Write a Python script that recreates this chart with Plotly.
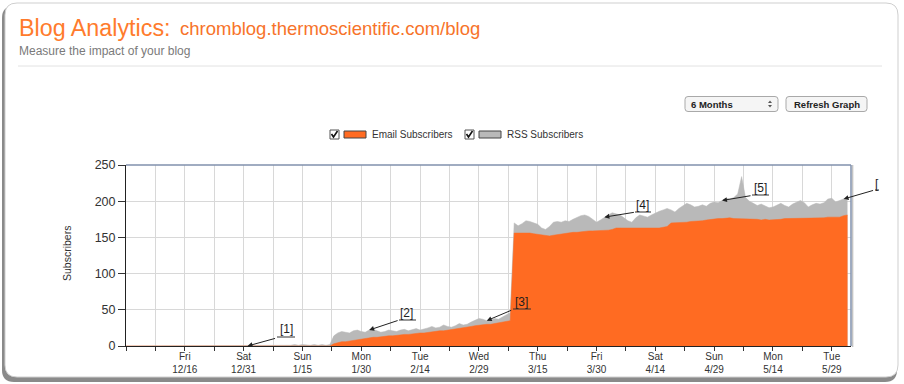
import plotly.graph_objects as go
import pandas as pd

# ---------------- data ----------------
start_date = "2011-12-01"

email_subscribers = [
    0, 0, 0, 0, 0, 0, 0, 0, 0, 0,
    0, 0, 0, 0, 0, 0, 0, 0, 0, 0,
    0, 0, 0, 0, 0, 0, 0, 0, 0, 0,
    0, 0, 0, 0, 0, 0, 0, 0, 0, 0,
    0, 0, 0, 0, 0, 0, 0, 0, 0, 0,
    0, 0, 0,
    3, 5, 6, 6, 7, 8, 9, 10, 11, 12,
    12, 12, 13, 13, 14, 14, 15, 15, 16, 16,
    17, 17, 18, 18, 19, 20, 20, 21, 21, 22,
    22, 23, 24, 25, 26, 27, 28, 29, 29, 30,
    30, 31, 32, 33, 34, 35,
    156, 156, 157, 157, 156, 155, 154, 153, 153, 152,
    153, 154, 155, 156, 156, 157, 157, 158, 158, 159,
    159, 159, 160, 160, 160, 161, 163, 163, 163, 163,
    163, 162, 162, 163, 163, 163, 163, 163, 164, 165,
    170, 170, 171, 171, 171, 172, 172, 172, 173, 174,
    175, 175, 176, 176, 177, 177, 176, 176, 176, 176,
    175, 175, 175, 174, 175, 174, 174, 175, 175, 176,
    176, 176, 176, 177, 177, 177, 177, 177, 177, 177,
    178, 178, 178, 178, 180, 181,
]

# Email + RSS subscribers (top of the grey band)
total_subscribers = [
    0, 0, 0, 0, 0, 0, 0, 0, 0, 0,
    0, 0, 0, 0, 0, 0, 0, 0, 0, 0,
    0, 0, 0, 0, 0, 0, 0, 0, 0, 0,
    0, 0, 0, 0, 0, 0, 0, 0, 0, 0,
    0, 0,
    1, 2, 1, 2, 1, 1, 2, 1, 2, 1, 2,
    14, 18, 20, 19, 18, 21, 22, 20, 19, 22,
    23, 21, 19, 20, 22, 21, 20, 22, 23, 21,
    22, 24, 22, 23, 25, 27, 25, 26, 29, 27,
    26, 28, 31, 29, 30, 33, 36, 38, 37, 35,
    36, 38, 37, 40, 42, 46,
    170, 166, 169, 173, 172, 170, 168, 163, 161, 165,
    171, 172, 171, 173, 172, 175, 178, 180, 181, 179,
    175, 171, 174, 178, 181, 184, 183, 181, 177, 173,
    171, 177, 181, 180, 178, 181, 184, 186, 188, 190,
    188, 185, 190, 194, 197, 195, 192, 193, 195, 193,
    197, 199, 198, 201, 204, 203, 205, 210, 234, 205,
    200, 197, 194, 196, 193, 191, 192, 195, 197, 194,
    192, 196, 199, 201, 198, 192, 195, 197, 196, 198,
    203, 204, 199, 201, 203, 201,
]

tick_dates = ["2011-12-16", "2011-12-31", "2012-01-15", "2012-01-30", "2012-02-14", "2012-02-29",
              "2012-03-15", "2012-03-30", "2012-04-14", "2012-04-29", "2012-05-14", "2012-05-29"]
tick_labels = ["Fri<br>12/16", "Sat<br>12/31", "Sun<br>1/15", "Mon<br>1/30", "Tue<br>2/14", "Wed<br>2/29",
               "Thu<br>3/15", "Fri<br>3/30", "Sat<br>4/14", "Sun<br>4/29", "Mon<br>5/14", "Tue<br>5/29"]

y_ticks = [0, 50, 100, 150, 200, 250]

marker_labels = ["[1]", "[2]", "[3]", "[4]", "[5]", "["]
marker_dates = ["2012-01-01", "2012-02-01", "2012-03-02", "2012-04-01", "2012-05-01", "2012-06-01"]

# ---------------- layout helpers ----------------
W, H = 904, 384
L, R, T, B = 126, 851, 165, 346
ORANGE = "#ff6b22"
GREY = "#b9b9b9"
FONT = "Liberation Sans, Arial, sans-serif"


def PX(x):
    return (x - L) / (R - L)


def PY(y):
    return (B - y) / (B - T)


def rrect(x0, y0, x1, y1, r):
    pts = (f"M {PX(x0 + r)},{PY(y0)} L {PX(x1 - r)},{PY(y0)} Q {PX(x1)},{PY(y0)} {PX(x1)},{PY(y0 + r)} "
           f"L {PX(x1)},{PY(y1 - r)} Q {PX(x1)},{PY(y1)} {PX(x1 - r)},{PY(y1)} "
           f"L {PX(x0 + r)},{PY(y1)} Q {PX(x0)},{PY(y1)} {PX(x0)},{PY(y1 - r)} "
           f"L {PX(x0)},{PY(y0 + r)} Q {PX(x0)},{PY(y0)} {PX(x0 + r)},{PY(y0)} Z")
    return pts


dates = pd.date_range(start_date, periods=len(email_subscribers), freq="D")

fig = go.Figure()
fig.add_trace(go.Scatter(x=dates, y=total_subscribers, mode="lines", name="RSS Subscribers",
                         line=dict(color=GREY, width=0.5), fill="tozeroy", fillcolor=GREY,
                         hoverinfo="skip"))
fig.add_trace(go.Scatter(x=dates, y=email_subscribers, mode="lines", name="Email Subscribers",
                         line=dict(color=ORANGE, width=0.5), fill="tozeroy", fillcolor=ORANGE,
                         hoverinfo="skip"))

shapes = []
annotations = []

# card with shadow
shapes.append(dict(type="path", xref="paper", yref="paper", path=rrect(2, 6, 897, 382, 12),
                   fillcolor="#8a8a8a", line=dict(width=0), layer="below"))
shapes.append(dict(type="path", xref="paper", yref="paper", path=rrect(5, 3, 898, 377, 12),
                   fillcolor="white", line=dict(color="#cfcfcf", width=1), layer="below"))
# separator under the header
shapes.append(dict(type="line", xref="paper", yref="paper", x0=PX(18), x1=PX(882), y0=PY(66), y1=PY(66),
                   line=dict(color="#e2e2e2", width=1), layer="below"))

# header texts
annotations.append(dict(text="Blog Analytics:", xref="paper", yref="paper", x=PX(17), y=PY(28),
                        xanchor="left", yanchor="middle", showarrow=False,
                        font=dict(family=FONT, size=23.3, color="#ff7b2c")))
annotations.append(dict(text="chromblog.thermoscientific.com/blog", xref="paper", yref="paper",
                        x=PX(178), y=PY(29), xanchor="left", yanchor="middle", showarrow=False,
                        font=dict(family=FONT, size=18.5, color="#f7732a")))
annotations.append(dict(text="Measure the impact of your blog", xref="paper", yref="paper",
                        x=PX(17), y=PY(51), xanchor="left", yanchor="middle", showarrow=False,
                        font=dict(family=FONT, size=12, color="#7a7a7a")))

# dropdown + button
shapes.append(dict(type="path", xref="paper", yref="paper", path=rrect(685, 96.5, 778, 111.5, 3),
                   fillcolor="#f5f5f5", line=dict(color="#a9a9a9", width=1), layer="above"))
annotations.append(dict(text="<b>6 Months</b>", xref="paper", yref="paper", x=PX(689), y=PY(104),
                        xanchor="left", yanchor="middle", showarrow=False,
                        font=dict(family=FONT, size=9.5, color="#222")))
shapes.append(dict(type="path", xref="paper", yref="paper",
                   path=f"M {PX(768)},{PY(103)} L {PX(772)},{PY(103)} L {PX(770)},{PY(100.5)} Z",
                   fillcolor="#555", line=dict(width=0), layer="above"))
shapes.append(dict(type="path", xref="paper", yref="paper",
                   path=f"M {PX(768)},{PY(105)} L {PX(772)},{PY(105)} L {PX(770)},{PY(107.5)} Z",
                   fillcolor="#555", line=dict(width=0), layer="above"))
shapes.append(dict(type="path", xref="paper", yref="paper", path=rrect(786, 96.5, 867, 111.5, 3),
                   fillcolor="#f5f5f5", line=dict(color="#a9a9a9", width=1), layer="above"))
annotations.append(dict(text="<b>Refresh Graph</b>", xref="paper", yref="paper", x=PX(826.5), y=PY(104),
                        xanchor="center", yanchor="middle", showarrow=False,
                        font=dict(family=FONT, size=9.5, color="#222")))

# legend (checkbox + swatch + text)
for cb_x, sw_x, txt_x, col, label in [(330, 344, 370, ORANGE, "Email Subscribers"),
                                      (465, 479, 505, GREY, "RSS Subscribers")]:
    shapes.append(dict(type="rect", xref="paper", yref="paper", x0=PX(cb_x), x1=PX(cb_x + 9),
                       y0=PY(130), y1=PY(139), fillcolor="white", line=dict(color="#555", width=1),
                       layer="above"))
    shapes.append(dict(type="path", xref="paper", yref="paper",
                       path=f"M {PX(cb_x + 1.5)},{PY(134)} L {PX(cb_x + 3.5)},{PY(137)} L {PX(cb_x + 7.5)},{PY(131)}",
                       line=dict(color="#111", width=1.6), layer="above"))
    shapes.append(dict(type="rect", xref="paper", yref="paper", x0=PX(sw_x), x1=PX(sw_x + 22),
                       y0=PY(131), y1=PY(138), fillcolor=col, line=dict(color="#444", width=1),
                       layer="above"))
    annotations.append(dict(text=label, xref="paper", yref="paper", x=PX(txt_x), y=PY(134.5),
                            xanchor="left", yanchor="middle", showarrow=False,
                            font=dict(family=FONT, size=10, color="#333")))

# y axis title
annotations.append(dict(text="Subscribers", xref="paper", yref="paper", x=PX(67), y=PY(254),
                        xanchor="center", yanchor="middle", textangle=-90, showarrow=False,
                        font=dict(family=FONT, size=10.5, color="#333")))

# plot frame (top and right)
shapes.append(dict(type="line", xref="paper", yref="paper", x0=0, x1=1, y0=1, y1=1,
                   line=dict(color="#8090ad", width=1.5), layer="above"))
shapes.append(dict(type="line", xref="paper", yref="paper", x0=PX(852.6), x1=PX(852.6), y0=PY(347), y1=PY(165),
                   line=dict(color="#c4c4c4", width=1.5), layer="above"))
shapes.append(dict(type="line", xref="paper", yref="paper", x0=1, x1=1, y0=0, y1=1,
                   line=dict(color="#8090ad", width=1.5), layer="above"))

# event markers: label, underline and arrow to the data point
label_pos = [(286, 329), (406, 313), (521, 302), (642, 205), (760, 188), (877, 184)]
underline = [(277, 295, 337), (399, 416, 320), (513, 531, 309), (635, 651, 212), (752, 769, 195), (875, 879, 190)]
arrow_off = [(29, -8), (30, -10), (26, -11), (31, -5), (30, -5), (31, -9)]
date_index = {d.strftime("%Y-%m-%d"): i for i, d in enumerate(dates)}
for lab, md, (lx, ly), (u0, u1, uy), (ax, ay) in zip(marker_labels, marker_dates, label_pos, underline, arrow_off):
    i = date_index[md]
    annotations.append(dict(text=lab, xref="paper", yref="paper", x=PX(lx), y=PY(ly),
                            xanchor="center", yanchor="middle", showarrow=False,
                            font=dict(family=FONT, size=12, color="#1d1d1d")))
    shapes.append(dict(type="line", xref="paper", yref="paper", x0=PX(u0), x1=PX(u1), y0=PY(uy), y1=PY(uy),
                       line=dict(color="#333", width=1), layer="above"))
    annotations.append(dict(text="", x=dates[i], y=total_subscribers[i], xref="x", yref="y",
                            ax=ax, ay=ay, showarrow=True, arrowhead=2, arrowsize=1, arrowwidth=1,
                            arrowcolor="#222"))

grid_col = "#d8d8d8"
fig.update_layout(
    width=W, height=H,
    margin=dict(l=L, r=W - R, t=T, b=H - B, pad=0, autoexpand=False),
    paper_bgcolor="white", plot_bgcolor="rgba(0,0,0,0)",
    showlegend=False,
    font=dict(family=FONT, color="#333"),
    shapes=shapes, annotations=annotations,
    xaxis=dict(type="date", range=["2011-12-01", "2012-06-02 21:30"],
               tickmode="array", tickvals=tick_dates, ticktext=tick_labels,
               ticks="outside", ticklen=4, tickcolor="#333", tickwidth=1,
               ticklabelstandoff=-3,
               tickfont=dict(family=FONT, size=10, color="#333"),
               showgrid=True, gridcolor=grid_col, gridwidth=1, automargin=False,
               showline=True, linecolor="#222", linewidth=1, zeroline=False,
               minor=dict(tickmode="linear", tick0="2011-12-08 12:00", dtick=648000000,
                          ticks="outside", ticklen=4, tickcolor="#333",
                          showgrid=True, gridcolor=grid_col, gridwidth=1),
               fixedrange=True),
    yaxis=dict(range=[0, 250], tickmode="array", tickvals=y_ticks,
               ticks="outside", ticklen=7, tickcolor="#333", tickwidth=1,
               tickfont=dict(family=FONT, size=12.5, color="#333"),
               showgrid=True, gridcolor=grid_col, gridwidth=1, automargin=False,
               showline=True, linecolor="#222", linewidth=1, zeroline=False,
               fixedrange=True),
)

fig.write_html("out.html", config={"displayModeBar": False, "staticPlot": True},
               post_script="document.body.style.margin='0px';")
